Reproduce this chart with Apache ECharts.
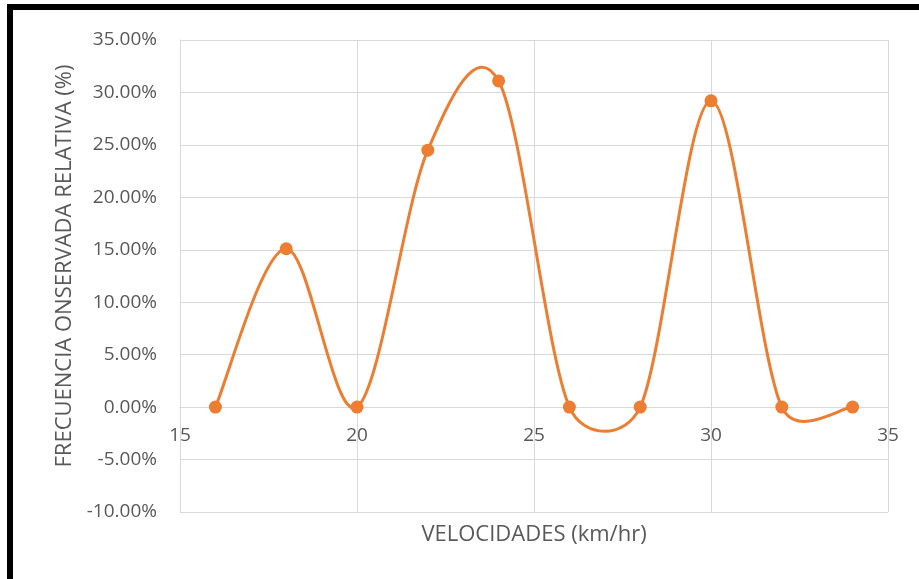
<!DOCTYPE html>
<html>
<head>
<meta charset="utf-8">
<script src="https://cdn.jsdelivr.net/npm/echarts@6/dist/echarts.min.js"></script>
<style>
  html, body { margin: 0; padding: 0; background: #ffffff; }
  #frame {
    position: absolute; left: 7px; top: 4px; width: 940px; height: 572px;
    border-top: 6px solid #000; border-left: 6px solid #000;
    border-bottom: 2px solid #d0d0d0; box-sizing: content-box;
  }
  #chart { position: absolute; left: 0; top: 0; width: 919px; height: 579px; }
</style>
</head>
<body>
<div id="frame"></div>
<div id="chart"></div>
<script>
// Velocidades (km/hr) y frecuencia observada relativa (%)
const velocidades = [16, 18, 20, 22, 24, 26, 28, 30, 32, 34];
const frecuencia = [0, 15.1, 0, 24.5, 31.1, 0, 0, 29.2, 0, 0];

const axisTitleX = 'VELOCIDADES (km/hr)';
const axisTitleY = 'FRECUENCIA ONSERVADA RELATIVA (%)';

const X_MIN = 15, X_MAX = 35, X_STEP = 5;
const Y_MIN = -10, Y_MAX = 35, Y_STEP = 5;

const textColor = '#595959';
const gridColor = '#d9d9d9';
const lineColor = '#ed7d31';
const font = '"Open Sans", "Noto Sans", sans-serif';

const CHART_H = 579;
const GRID = { left: 180, right: 31, top: 40, bottom: 67 };
// The horizontal axis sits on the 0 % line: shift it up from the plot bottom.
const plotH = CHART_H - GRID.top - GRID.bottom;
const xAxisShift = -plotH * (0 - Y_MIN) / (Y_MAX - Y_MIN);

const points = velocidades.map((v, i) => [v, frecuencia[i]]);

// Bezier control point leaving `from` toward `to`, with tangent along (b - a):
// length is a sixth of |b - a|, capped at half of the segment |to - from|.
function handle(from, to, a, b, sign) {
  const dx = b[0] - a[0], dy = b[1] - a[1];
  const d = Math.hypot(dx, dy);
  if (d === 0) return from;
  const seg = Math.hypot(to[0] - from[0], to[1] - from[1]);
  const len = Math.min(d / 6, seg / 2);
  return [from[0] + sign * dx / d * len, from[1] + sign * dy / d * len];
}

function renderSegment(params, api) {
  const i = params.dataIndex;
  if (i >= points.length - 1) return null;
  const px = points.map(pt => api.coord(pt));
  const p1 = px[i], p2 = px[i + 1];
  const p0 = px[i - 1] || p1;
  const p3 = px[i + 2] || p2;
  const c1 = handle(p1, p2, p0, p2, 1);
  const c2 = handle(p2, p1, p1, p3, -1);
  const path = 'M' + p1[0] + ' ' + p1[1] +
    ' C' + c1[0] + ' ' + c1[1] + ' ' + c2[0] + ' ' + c2[1] + ' ' + p2[0] + ' ' + p2[1];
  return {
    type: 'path',
    shape: { pathData: path },
    style: { fill: null, stroke: lineColor, lineWidth: 3, lineCap: 'round', lineJoin: 'round' }
  };
}

const chart = echarts.init(document.getElementById('chart'), null, { renderer: 'canvas' });
chart.setOption({
  animation: false,
  backgroundColor: 'transparent',
  grid: Object.assign({ containLabel: false, outerBoundsMode: 'none' }, GRID),
  xAxis: {
    type: 'value', min: X_MIN, max: X_MAX, interval: X_STEP,
    offset: xAxisShift,
    name: axisTitleX, nameLocation: 'middle', nameGap: 117,
    nameTextStyle: { color: textColor, fontFamily: font, fontSize: 22 },
    axisLine: { show: true, onZero: false, lineStyle: { color: gridColor, width: 1 } },
    axisTick: { show: false },
    axisLabel: { color: textColor, fontFamily: font, fontSize: 19, margin: 19 },
    splitLine: { show: true, lineStyle: { color: gridColor, width: 1 } }
  },
  yAxis: {
    type: 'value', min: Y_MIN, max: Y_MAX, interval: Y_STEP,
    name: axisTitleY, nameLocation: 'middle', nameGap: 100,
    nameTextStyle: { color: textColor, fontFamily: font, fontSize: 22, padding: [0, 0, 0, 20] },
    axisLine: { show: true, onZero: false, lineStyle: { color: gridColor, width: 1 } },
    axisTick: { show: false },
    axisLabel: {
      color: textColor, fontFamily: font, fontSize: 19, margin: 23,
      formatter: v => v.toFixed(2) + '%'
    },
    splitLine: { show: true, lineStyle: { color: gridColor, width: 1 } }
  },
  series: [
    {
      type: 'custom',
      data: points,
      encode: { x: 0, y: 1 },
      renderItem: renderSegment,
      silent: true,
      z: 2
    },
    {
      type: 'scatter',
      data: points,
      symbol: 'circle',
      symbolSize: 13,
      itemStyle: { color: lineColor, opacity: 1 },
      z: 3
    }
  ]
});
</script>
</body>
</html>
